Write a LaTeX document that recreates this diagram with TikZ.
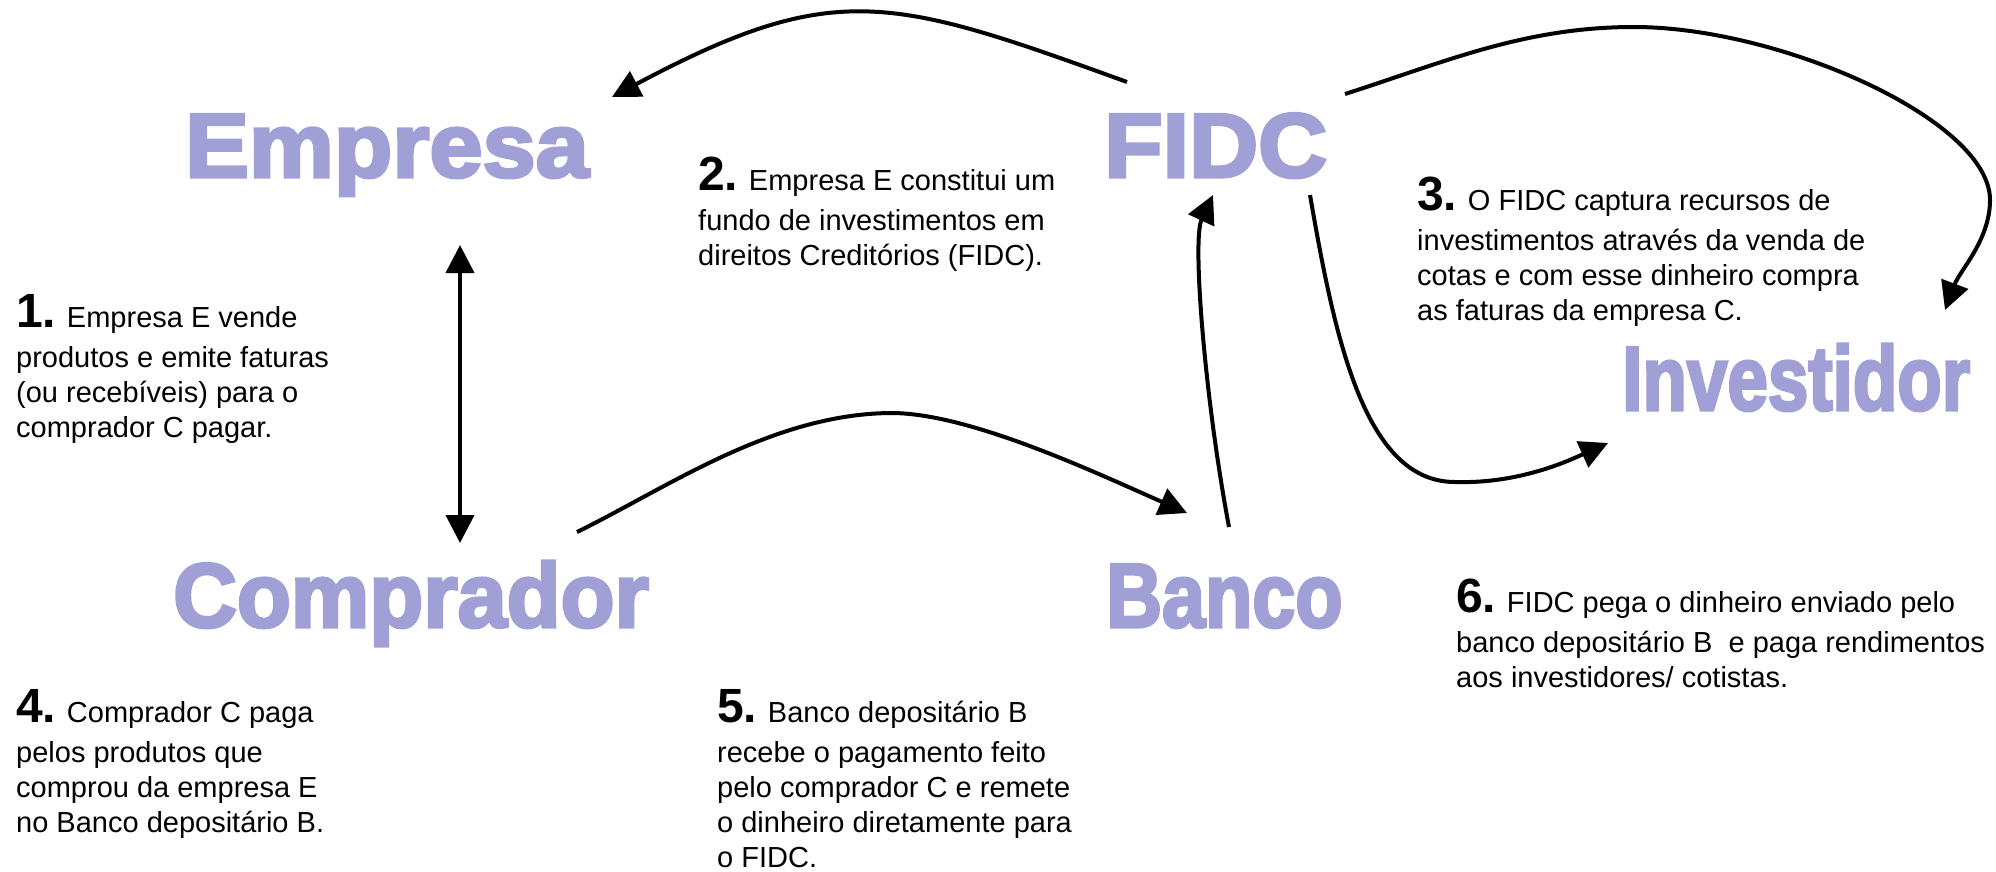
\documentclass[tikz,border=0pt]{standalone}
\usepackage{fontspec}
\setmainfont{Liberation Sans}
\newfontfamily\wordfont[BoldFeatures={FakeBold=3.5}]{Liberation Sans}
\usepackage{graphicx}
\usetikzlibrary{arrows.meta}
\definecolor{wordfill}{RGB}{160,160,214}
\newcommand\stepnum[1]{{\fontsize{48}{35}\selectfont\bfseries #1.}}
\begin{document}
\begin{tikzpicture}[x=1pt,y=-1pt,
  bigword/.style={inner sep=0pt, anchor=base west, text=wordfill,
    font=\wordfont\bfseries\fontsize{91}{91}\selectfont},
  stepnote/.style={anchor=base west, inner sep=0pt, font=\fontsize{29}{35}\selectfont},
  tip/.tip={Triangle[length=28pt,width=28pt]},
  flow/.style={line width=4pt, -tip},
  twoway/.style={line width=4pt, tip-tip},
]
\useasboundingbox (0,0) rectangle (1996,871);

% big words
\node[bigword] (empresa) at (185,177) {\scalebox{1.05}[1]{Empresa}};
\node[bigword] (fidc) at (1104,177) {\scalebox{1.05}[1]{FIDC}};
\node[bigword] (comprador) at (173,627) {\scalebox{0.97}[1]{Comprador}};
\node[bigword] (banco) at (1106,627) {\scalebox{0.85}[1]{Banco}};
\node[bigword] (investidor) at (1622,410) {\scalebox{0.80}[1]{Investidor}};

% step notes
\node[stepnote] (n1) at (16,327) {\parbox[t]{600pt}{\raggedright
  \stepnum{1} Empresa E vende\\[5pt]
  produtos e emite faturas\\
  (ou recebíveis) para o\\
  comprador C pagar.}};
\node[stepnote] (n2) at (698,190) {\parbox[t]{600pt}{\raggedright
  \stepnum{2} Empresa E constitui um\\[5pt]
  fundo de investimentos em\\
  direitos Creditórios (FIDC).}};
\node[stepnote] (n3) at (1417,210) {\parbox[t]{600pt}{\raggedright
  \stepnum{3} O FIDC captura recursos de\\[5pt]
  investimentos através da venda de\\
  cotas e com esse dinheiro compra\\
  as faturas da empresa C.}};
\node[stepnote] (n4) at (16,722) {\parbox[t]{600pt}{\raggedright
  \stepnum{4} Comprador C paga\\[5pt]
  pelos produtos que\\
  comprou da empresa E\\
  no Banco depositário B.}};
\node[stepnote] (n5) at (717,722) {\parbox[t]{600pt}{\raggedright
  \stepnum{5} Banco depositário B\\[5pt]
  recebe o pagamento feito\\
  pelo comprador C e remete\\
  o dinheiro diretamente para\\
  o FIDC.}};
\node[stepnote] (n6) at (1456,612) {\parbox[t]{600pt}{\raggedright
  \stepnum{6} FIDC pega o dinheiro enviado pelo\\[5pt]
  banco depositário B\ \ e paga rendimentos\\
  aos investidores/ cotistas.}};

% connector end points
\coordinate (fidcOutW) at (1127,82);
\coordinate (empresaIn) at (612,97);
\coordinate (fidcOutE) at (1345,94);
\coordinate (investIn) at (1945,310);
\coordinate (bancoOut) at (1229,527);
\coordinate (fidcIn) at (1213,195);
\coordinate (fidcOutS) at (1310,195);
\coordinate (investIn2) at (1608,443);
\coordinate (compOut) at (577,532);
\coordinate (bancoIn) at (1187,513);
\coordinate (empresaS) at (460,245);
\coordinate (compN) at (460,543);

% connectors
\draw[flow] (fidcOutW) .. controls (890,-4) and (834,-21) .. (empresaIn);
\draw[flow] (fidcOutE) .. controls (1445,62) and (1524,27) .. (1634,27)
  .. controls (1780,27) and (1990,120) .. (1990,200)
  .. controls (1990,240) and (1960,270) .. (investIn);
\draw[flow] (bancoOut) .. controls (1205,400) and (1192,240) .. (fidcIn);
\draw[flow] (fidcOutS) .. controls (1335,340) and (1365,482) .. (1455,482)
  .. controls (1520,484) and (1570,460) .. (investIn2);
\draw[flow] (compOut) .. controls (667,488) and (773,413) .. (893,413)
  .. controls (970,414) and (1090,470) .. (bancoIn);
\draw[twoway] (empresaS) -- (compN);
\end{tikzpicture}
\end{document}
